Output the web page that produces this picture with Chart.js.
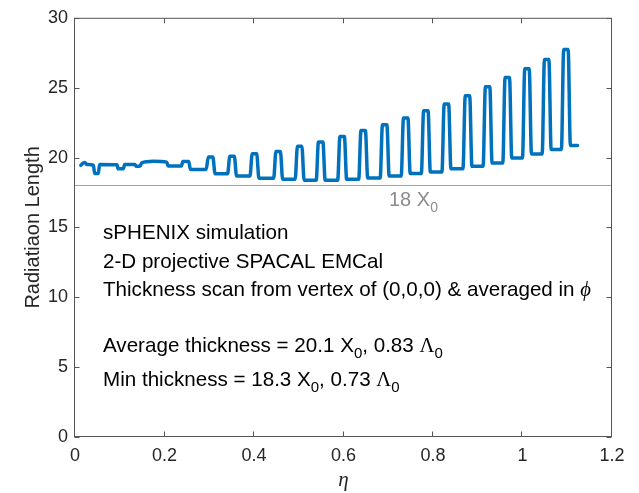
<!DOCTYPE html>
<html>
<head>
<meta charset="utf-8">
<script src="https://cdn.jsdelivr.net/npm/chart.js@4.4.0/dist/chart.umd.min.js"></script>
<style>
  html, body { margin: 0; padding: 0; background: #fff; }
  canvas { display: block; }
</style>
</head>
<body>
<canvas id="thickness" width="639" height="493"></canvas>
<script>
// pseudorapidity scan points
var eta = [
  0.013, 0.018, 0.022, 0.026, 0.041, 0.044, 0.052, 0.055, 0.094, 0.096, 0.108, 0.111,
  0.134, 0.137, 0.145, 0.149, 0.175, 0.205, 0.208, 0.238, 0.241, 0.254, 0.258,
  0.293, 0.298, 0.308, 0.313,
  0.341, 0.346, 0.356, 0.361,
  0.391, 0.396, 0.406, 0.411,
  0.444, 0.449, 0.459, 0.464,
  0.492, 0.497, 0.507, 0.512,
  0.539, 0.544, 0.554, 0.559,
  0.587, 0.592, 0.602, 0.607,
  0.634, 0.639, 0.649, 0.654,
  0.682, 0.687, 0.697, 0.702,
  0.729, 0.734, 0.744, 0.749,
  0.774, 0.779, 0.789, 0.794,
  0.820, 0.825, 0.835, 0.840,
  0.867, 0.872, 0.882, 0.887,
  0.912, 0.917, 0.927, 0.932,
  0.956, 0.961, 0.971, 0.976,
  1.000, 1.005, 1.015, 1.020,
  1.044, 1.049, 1.059, 1.064,
  1.087, 1.092, 1.102, 1.107,
  1.123
];

// thickness in radiation lengths (X0)
var radLength = [
  19.45, 19.60, 19.65, 19.50, 19.45, 18.85, 18.85, 19.50, 19.48, 19.20, 19.20, 19.50,
  19.50, 19.37, 19.37, 19.62, 19.74, 19.67, 19.40, 19.40, 19.72, 19.72, 19.15,
  19.15, 20.03, 20.03, 18.84,
  18.84, 20.10, 20.10, 18.68,
  18.68, 20.27, 20.27, 18.52,
  18.52, 20.44, 20.44, 18.44,
  18.44, 20.80, 20.80, 18.37,
  18.37, 21.11, 21.11, 18.37,
  18.37, 21.51, 21.51, 18.44,
  18.44, 21.93, 21.93, 18.54,
  18.54, 22.34, 22.34, 18.68,
  18.68, 22.83, 22.83, 18.85,
  18.85, 23.35, 23.35, 18.96,
  18.96, 23.83, 23.83, 19.20,
  19.20, 24.42, 24.42, 19.37,
  19.37, 25.06, 25.06, 19.60,
  19.60, 25.72, 25.72, 19.96,
  19.96, 26.36, 26.36, 20.26,
  20.26, 27.02, 27.02, 20.57,
  20.57, 27.73, 27.73, 20.86,
  20.86
];

var refLevel = 18;
var refRange = [0, 1.2];
var xTickLabels = ['0', '0.2', '0.4', '0.6', '0.8', '1', '1.2'];
var yTickLabels = ['0', '5', '10', '15', '20', '25', '30'];

var SANS = "'Liberation Sans', Arial, Helvetica, sans-serif";
var SERIF = "'Liberation Serif', 'DejaVu Serif', 'Times New Roman', serif";

function drawRich(ctx, x, y, parts, size, color) {
  ctx.fillStyle = color;
  ctx.textAlign = 'left';
  ctx.textBaseline = 'alphabetic';
  parts.forEach(function (p) {
    var kind = p[1] || '';
    var dy = 0;
    if (kind === 'sub') {
      ctx.font = Math.round(size * 0.72) + 'px ' + SANS;
      dy = 6;
    } else if (kind === 'greek') {
      ctx.font = size + 'px ' + SERIF;
    } else if (kind === 'phi') {
      ctx.font = 'italic ' + size + 'px ' + SERIF;
    } else {
      ctx.font = size + 'px ' + SANS;
    }
    ctx.fillText(p[0], x, y + dy);
    x += ctx.measureText(p[0]).width;
  });
}

// MATLAB style frame: box, inward ticks on all sides, titles and notes
var matlabFrame = {
  id: 'matlabFrame',
  afterDraw: function (chart) {
    var ctx = chart.ctx;
    var ca = chart.chartArea;
    var xs = chart.scales.x;
    var ys = chart.scales.y;
    var L = ca.left - 0.5, R = ca.right - 0.5, T = ca.top + 0.5, B = ca.bottom - 0.5;
    ctx.save();
    ctx.strokeStyle = '#555555';
    ctx.lineWidth = 1;
    ctx.strokeRect(L, T, R - L, B - T);
    ctx.beginPath();
    xs.ticks.forEach(function (t) {
      var px = Math.round(xs.getPixelForValue(t.value)) - 0.5;
      ctx.moveTo(px, B); ctx.lineTo(px, B - 5);
      ctx.moveTo(px, T); ctx.lineTo(px, T + 5);
    });
    ys.ticks.forEach(function (t) {
      var py = Math.round(ys.getPixelForValue(t.value)) + 0.5;
      ctx.moveTo(L, py); ctx.lineTo(L + 5, py);
      ctx.moveTo(R, py); ctx.lineTo(R - 5, py);
    });
    ctx.stroke();

    // axis titles
    ctx.fillStyle = '#262626';
    ctx.font = 'italic 21px ' + SERIF;
    ctx.textAlign = 'center';
    ctx.textBaseline = 'alphabetic';
    ctx.fillText('\u03b7', (ca.left + ca.right) / 2, 486);

    ctx.save();
    ctx.translate(39, (ca.top + ca.bottom) / 2);
    ctx.rotate(-Math.PI / 2);
    ctx.font = '20px ' + SANS;
    ctx.textAlign = 'center';
    ctx.fillText('Radiatiaon Length', 0, 0);
    ctx.restore();

    // reference level label
    var refY = ys.getPixelForValue(refLevel);
    drawRich(ctx, 389, refY + 21, [['18 X'], ['0', 'sub']], 20, '#8c8c8c');

    // notes
    var x0 = ca.left + 28;
    var fs = 20.6;
    drawRich(ctx, x0, 239, [['sPHENIX simulation']], fs, '#000000');
    drawRich(ctx, x0, 268, [['2-D projective SPACAL EMCal']], fs, '#000000');
    drawRich(ctx, x0, 296, [['Thickness scan from vertex of (0,0,0) & averaged in '], ['\u03d5', 'phi']], fs, '#000000');
    drawRich(ctx, x0, 352, [['Average thickness = 20.1 X'], ['0', 'sub'], [', 0.83 '], ['\u039b', 'greek'], ['0', 'sub']], fs, '#000000');
    drawRich(ctx, x0, 386, [['Min thickness = 18.3 X'], ['0', 'sub'], [', 0.73 '], ['\u039b', 'greek'], ['0', 'sub']], fs, '#000000');
    ctx.restore();
  }
};

var points = eta.map(function (v, i) { return { x: v, y: radLength[i] }; });
var refPoints = refRange.map(function (v) { return { x: v, y: refLevel }; });

var ctx1 = document.getElementById('thickness').getContext('2d');
var myChart = new Chart(ctx1, {
  type: 'scatter',
  data: {
    datasets: [{
      label: 'Radiation length',
      data: points,
      showLine: true,
      borderColor: '#0072BD',
      backgroundColor: '#0072BD',
      borderWidth: 3.5,
      pointRadius: 0,
      cubicInterpolationMode: 'monotone',
      borderJoinStyle: 'round',
      borderCapStyle: 'round'
    },
    {
      label: '18 X0',
      data: refPoints,
      showLine: true,
      borderColor: '#a0a0a0',
      borderWidth: 1,
      pointRadius: 0
    }]
  },
  options: {
    responsive: false,
    animation: false,
    layout: { padding: { top: 14, right: 27, bottom: 0, left: 0 } },
    plugins: {
      legend: { display: false },
      tooltip: { enabled: false }
    },
    scales: {
      x: {
        type: 'linear',
        min: 0,
        max: 1.2,
        afterFit: function (scale) { scale.height = 56; },
        ticks: {
          stepSize: 0.2,
          padding: 8,
          color: '#262626',
          font: { family: SANS, size: 18 },
          maxRotation: 0,
          callback: function (value, index) { return xTickLabels[index]; }
        },
        grid: { display: false, drawTicks: false, tickLength: 0 },
        border: { display: false }
      },
      y: {
        min: 0,
        max: 30,
        afterFit: function (scale) { scale.width = 75; },
        ticks: {
          stepSize: 5,
          padding: 7,
          color: '#262626',
          font: { family: SANS, size: 18 },
          callback: function (value, index) { return yTickLabels[index]; }
        },
        grid: { display: false, drawTicks: false, tickLength: 0 },
        border: { display: false }
      }
    }
  },
  plugins: [matlabFrame]
});
</script>
</body>
</html>
